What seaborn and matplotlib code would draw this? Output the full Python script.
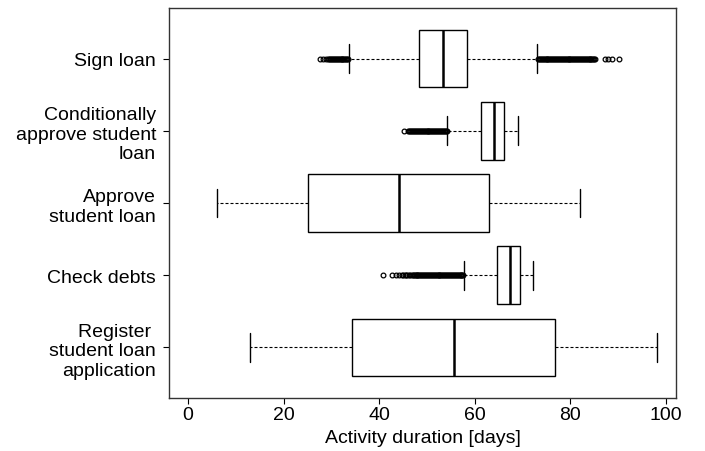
import matplotlib
matplotlib.use("Agg")
import matplotlib.pyplot as plt
import seaborn as sns

sns.set_theme(style="white")
plt.rcParams['font.family'] = ['Liberation Sans', 'DejaVu Sans']
plt.rcParams['text.color'] = 'black'
plt.rcParams['axes.labelcolor'] = 'black'
plt.rcParams['xtick.color'] = 'black'
plt.rcParams['ytick.color'] = 'black'

# Categories bottom to top
labels = ["Register \nstudent loan\napplication", "Check debts", "Approve\nstudent loan",
          "Conditionally\napprove student\nloan", "Sign loan"]

whislo = [13.0, 57.7, 6.0, 54.2, 33.7]
q1 = [34.3, 64.7, 25.0, 61.3, 48.4]
med = [55.6, 67.3, 44.1, 64.0, 53.3]
q3 = [76.8, 69.4, 62.9, 66.1, 58.3]
whishi = [98.1, 72.1, 82.1, 69.0, 73.0]

fliers_register = []
fliers_check = [40.8, 42.7, 43.4, 44.1, 44.7, 45.0, 45.3, 45.6, 45.9, 46.2, 46.5, 46.8,
                47.0, 47.2, 47.4, 47.6, 47.8, 48.0, 48.2, 48.4, 48.6, 48.8, 49.0, 49.2,
                49.4, 49.6, 49.8, 50.0, 50.2, 50.4, 50.6, 50.8, 51.0, 51.2, 51.4, 51.6,
                51.8, 52.0, 52.2, 52.4, 52.6, 52.8, 53.0, 53.2, 53.4, 53.6, 53.8, 54.0,
                54.2, 54.4, 54.6, 54.8, 55.0, 55.2, 55.4, 55.6, 55.8, 56.0, 56.2, 56.4,
                56.6, 56.8, 57.0, 57.2, 57.4, 57.6]
fliers_approve = []
fliers_cond = [45.2, 46.1, 46.3, 46.5, 46.7, 46.9, 47.1, 47.3, 47.5, 47.7, 47.9, 48.1,
               48.3, 48.5, 48.7, 48.9, 49.1, 49.3, 49.5, 49.7, 49.9, 50.1, 50.3, 50.5,
               50.7, 50.9, 51.1, 51.3, 51.5, 51.7, 51.9, 52.1, 52.3, 52.5, 52.7, 52.9,
               53.1, 53.3, 53.5, 53.7, 53.9, 54.1]
fliers_sign = [27.6, 28.2, 28.9, 29.3, 29.5, 29.7, 29.9, 30.1, 30.3, 30.5, 30.7, 30.9,
               31.1, 31.3, 31.5, 31.7, 31.9, 32.1, 32.3, 32.5, 32.7, 32.9, 33.1, 33.3,
               33.5,
               73.2, 73.4, 73.6, 73.8, 74.0, 74.2, 74.4, 74.6, 74.8, 75.0, 75.2, 75.4,
               75.6, 75.8, 76.0, 76.2, 76.4, 76.6, 76.8, 77.0, 77.2, 77.4, 77.6, 77.8,
               78.0, 78.2, 78.4, 78.6, 78.8, 79.0, 79.2, 79.4, 79.6, 79.8, 80.0, 80.2,
               80.4, 80.6, 80.8, 81.0, 81.2, 81.4, 81.6, 81.8, 82.0, 82.2, 82.4, 82.6,
               82.8, 83.0, 83.2, 83.4, 83.6, 83.8, 84.0, 84.2, 84.4, 84.6, 84.8, 85.0,
               85.2, 87.2, 87.9, 88.6, 90.2]
fliers = [fliers_register, fliers_check, fliers_approve, fliers_cond, fliers_sign]

xticks = [0, 20, 40, 60, 80, 100]

stats = []
for i in range(len(labels)):
    stats.append(dict(label=labels[i], whislo=whislo[i], q1=q1[i], med=med[i],
                      q3=q3[i], whishi=whishi[i], fliers=fliers[i]))

fig = plt.figure(figsize=(7.05, 4.52), dpi=100)
ax = fig.add_axes([0.2404, 0.1173, 0.7185, 0.8627])

ax.bxp(stats, positions=[1, 2, 3, 4, 5], widths=0.8, orientation='horizontal',
       patch_artist=True, capwidths=0.4,
       boxprops=dict(facecolor='white', edgecolor='black', linewidth=1.0),
       medianprops=dict(color='black', linewidth=1.8),
       whiskerprops=dict(color='black', linewidth=0.8, linestyle=(0, (2.7, 1.8))),
       capprops=dict(color='black', linewidth=1.0),
       flierprops=dict(marker='o', markersize=3.4, markerfacecolor='none',
                       markeredgecolor='black', markeredgewidth=0.9, linestyle='none'))

ax.set_xlim(-3.9, 102.1)
ax.set_ylim(0.3, 5.7)
ax.set_xticks(xticks)
ax.set_xticklabels([str(t) for t in xticks])
ax.set_yticks([1, 2, 3, 4, 5])
ax.set_yticklabels(labels, ha='right')
ax.set_xlabel("Activity duration [days]", fontsize=14, labelpad=4, color='black')
ax.tick_params(axis='both', labelsize=14, direction='out', length=4.3, width=0.8,
               color='black', labelcolor='black', bottom=True, left=True)
ax.tick_params(axis='x', pad=1.8)
ax.tick_params(axis='y', pad=5.3)
for s in ax.spines.values():
    s.set_visible(True)
    s.set_color('#333333')
    s.set_linewidth(1.0)
ax.grid(False)

fig.savefig("out.png", dpi=100)
